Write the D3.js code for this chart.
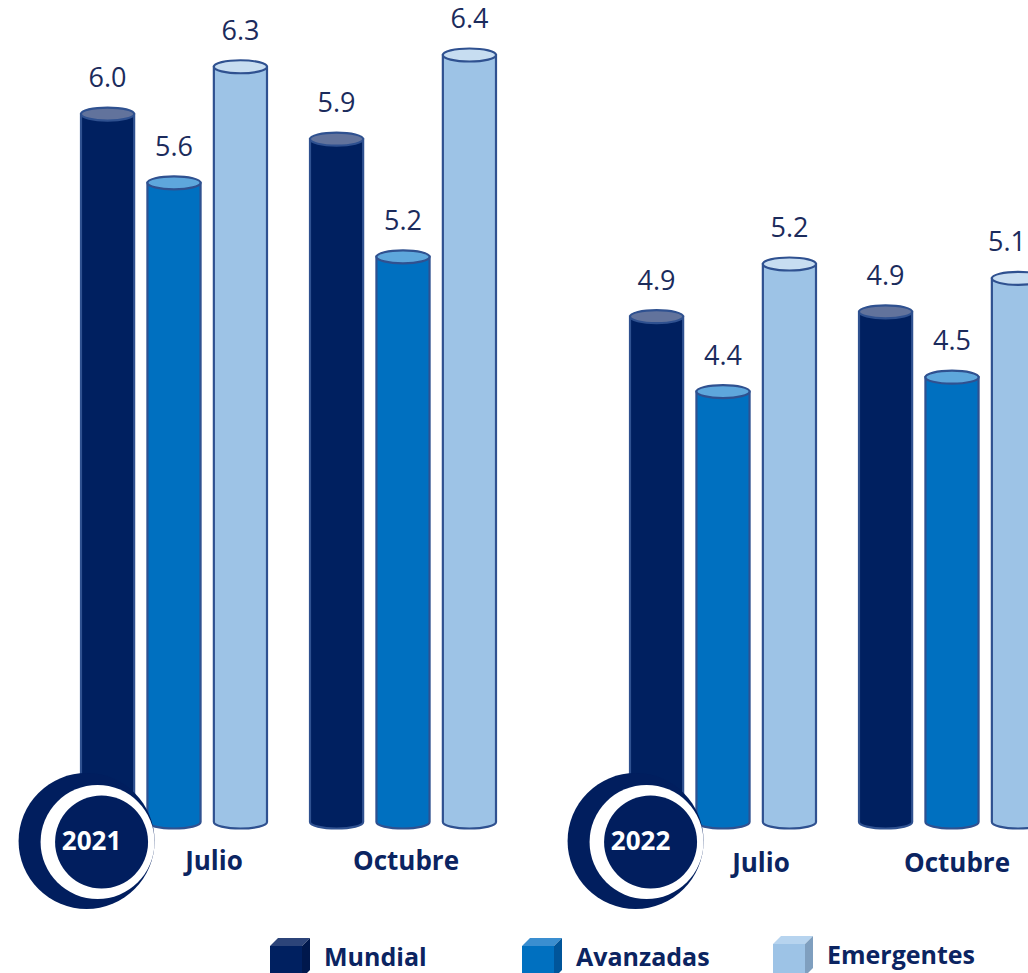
<!DOCTYPE html>
<html>
<head>
<meta charset="utf-8">
<script src="https://cdn.jsdelivr.net/npm/d3@7"></script>
<style>
  html, body { margin: 0; padding: 0; background: #ffffff; overflow: hidden; }
  svg { display: block; }
</style>
</head>
<body>
<svg id="chart" width="1028" height="973"></svg>
<script>
// ---- data ----
const years = ["2021", "2022"];
const periods = ["Julio", "Octubre"];
const series = ["Mundial", "Avanzadas", "Emergentes"];
const values2021 = [
  [6.049, 5.64, 6.33],  // Julio
  [5.9, 5.2, 6.4]       // Octubre
];
const values2022 = [
  [4.87, 4.4, 5.2],     // Julio
  [4.9, 4.49, 5.11]     // Octubre
];
const valuesByYear = [values2021, values2022];

// ---- styles ----
const bodyColor = { Mundial: "#002060", Avanzadas: "#0070c0", Emergentes: "#9dc3e6" };
const topColor  = { Mundial: "#62739c", Avanzadas: "#5ea7dc", Emergentes: "#c7ddf1" };
const sideColor = { Mundial: "#00184c", Avanzadas: "#00559a", Emergentes: "#7f9fbf" };
const lidColor  = { Mundial: "#2c4479", Avanzadas: "#3a8ed0", Emergentes: "#b7d4ef" };
const strokeColor = "#2f5190";
const textNavy = "#1b2b5c";
const boldNavy = "#0b2461";
const font = "'Open Sans', 'Noto Sans', sans-serif";

const svg = d3.select("#chart");

const panelCfg = [
  { left: 81, yDomain: [1.84, 6.4], yRange: [822, 55], labelBase: 870, labelShift: { Julio: 40, Octubre: 3 } },
  { left: 630, yDomain: [1.70, 5.2], yRange: [822, 264], labelBase: 872, labelShift: { Julio: 38, Octubre: 5 } }
];

const fmt = d3.format(".1f");
const ry = 6.5;

years.forEach((year, pi) => {
  const cfg = panelCfg[pi];
  const x0 = d3.scaleBand().domain(periods)
    .range([cfg.left, cfg.left + 415]).paddingInner(43 / 229).paddingOuter(0);
  const x1 = d3.scaleBand().domain(series)
    .range([0, x0.bandwidth()]).paddingInner(0.2).paddingOuter(0);
  const y = d3.scaleLinear().domain(cfg.yDomain).range(cfg.yRange);
  const base = y(cfg.yDomain[0]);

  const g = svg.append("g");

  periods.forEach((p, ci) => {
    const gg = g.append("g").attr("transform", `translate(${x0(p)},0)`);
    series.forEach((s, si) => {
      const v = valuesByYear[pi][ci][si];
      const xl = x1(s), w = x1.bandwidth(), rx = w / 2;
      const xr = xl + w, cx = xl + rx;
      const yt = y(v);
      gg.append("path")
        .attr("d", `M${xl},${yt} L${xl},${base} A${rx},${ry} 0 0 0 ${xr},${base} L${xr},${yt} Z`)
        .attr("fill", bodyColor[s])
        .attr("stroke", strokeColor)
        .attr("stroke-width", 2.2);
      gg.append("ellipse")
        .attr("cx", cx).attr("cy", yt).attr("rx", rx).attr("ry", ry)
        .attr("fill", topColor[s])
        .attr("stroke", strokeColor)
        .attr("stroke-width", 2.2);
      const t = gg.append("text")
        .attr("x", cx).attr("y", yt - 27)
        .attr("text-anchor", "middle")
        .attr("font-family", font)
        .attr("font-size", 27)
        .attr("fill", textNavy)
        .text(fmt(v));
      const bb = t.node().getBBox();
      const absRight = x0(p) + bb.x + bb.width;
      if (absRight > 1026) t.attr("x", cx - (absRight - 1026));
    });
    g.append("text")
      .attr("x", x0(p) + x0.bandwidth() / 2 + cfg.labelShift[p])
      .attr("y", cfg.labelBase)
      .attr("text-anchor", "middle")
      .attr("font-family", font)
      .attr("font-weight", 700)
      .attr("font-size", 26)
      .attr("fill", boldNavy)
      .text(p);
  });

  const bx = x0(periods[0]) + x1(series[0]) + x1.bandwidth() / 2 - 21;
  const by = 841;
  g.append("circle").attr("cx", bx).attr("cy", by).attr("r", 68).attr("fill", "#011e5e");
  g.append("circle").attr("cx", bx + 11).attr("cy", by + 1).attr("r", 57).attr("fill", "#ffffff");
  g.append("circle").attr("cx", bx + 15).attr("cy", by + 1).attr("r", 46.5).attr("fill", "#011e5e");
  g.append("text")
    .attr("x", bx + 5).attr("y", by - 1)
    .attr("text-anchor", "middle")
    .attr("dominant-baseline", "central")
    .attr("font-family", font)
    .attr("font-weight", 700)
    .attr("font-size", 26)
    .attr("fill", "#ffffff")
    .text(year);
});

// ---- legend ----
const legendX = d3.scaleOrdinal().domain(series).range([270, 522, 773]);
const legendY = d3.scaleOrdinal().domain(series).range([946, 946, 944]);
const cube = 32, depth = 8;
series.forEach(s => {
  const lx = legendX(s), ly = legendY(s);
  const lg = svg.append("g");
  lg.append("rect").attr("x", lx).attr("y", ly).attr("width", cube).attr("height", cube).attr("fill", bodyColor[s]);
  lg.append("path")
    .attr("d", `M${lx},${ly} L${lx + depth},${ly - depth} L${lx + cube + depth},${ly - depth} L${lx + cube},${ly} Z`)
    .attr("fill", lidColor[s]);
  lg.append("path")
    .attr("d", `M${lx + cube},${ly} L${lx + cube + depth},${ly - depth} L${lx + cube + depth},${ly + cube - depth} L${lx + cube},${ly + cube} Z`)
    .attr("fill", sideColor[s]);
  lg.append("text")
    .attr("x", lx + cube + depth + 14)
    .attr("y", ly + 20)
    .attr("font-family", font)
    .attr("font-weight", 700)
    .attr("font-size", 25)
    .attr("fill", boldNavy)
    .text(s);
});
</script>
</body>
</html>
